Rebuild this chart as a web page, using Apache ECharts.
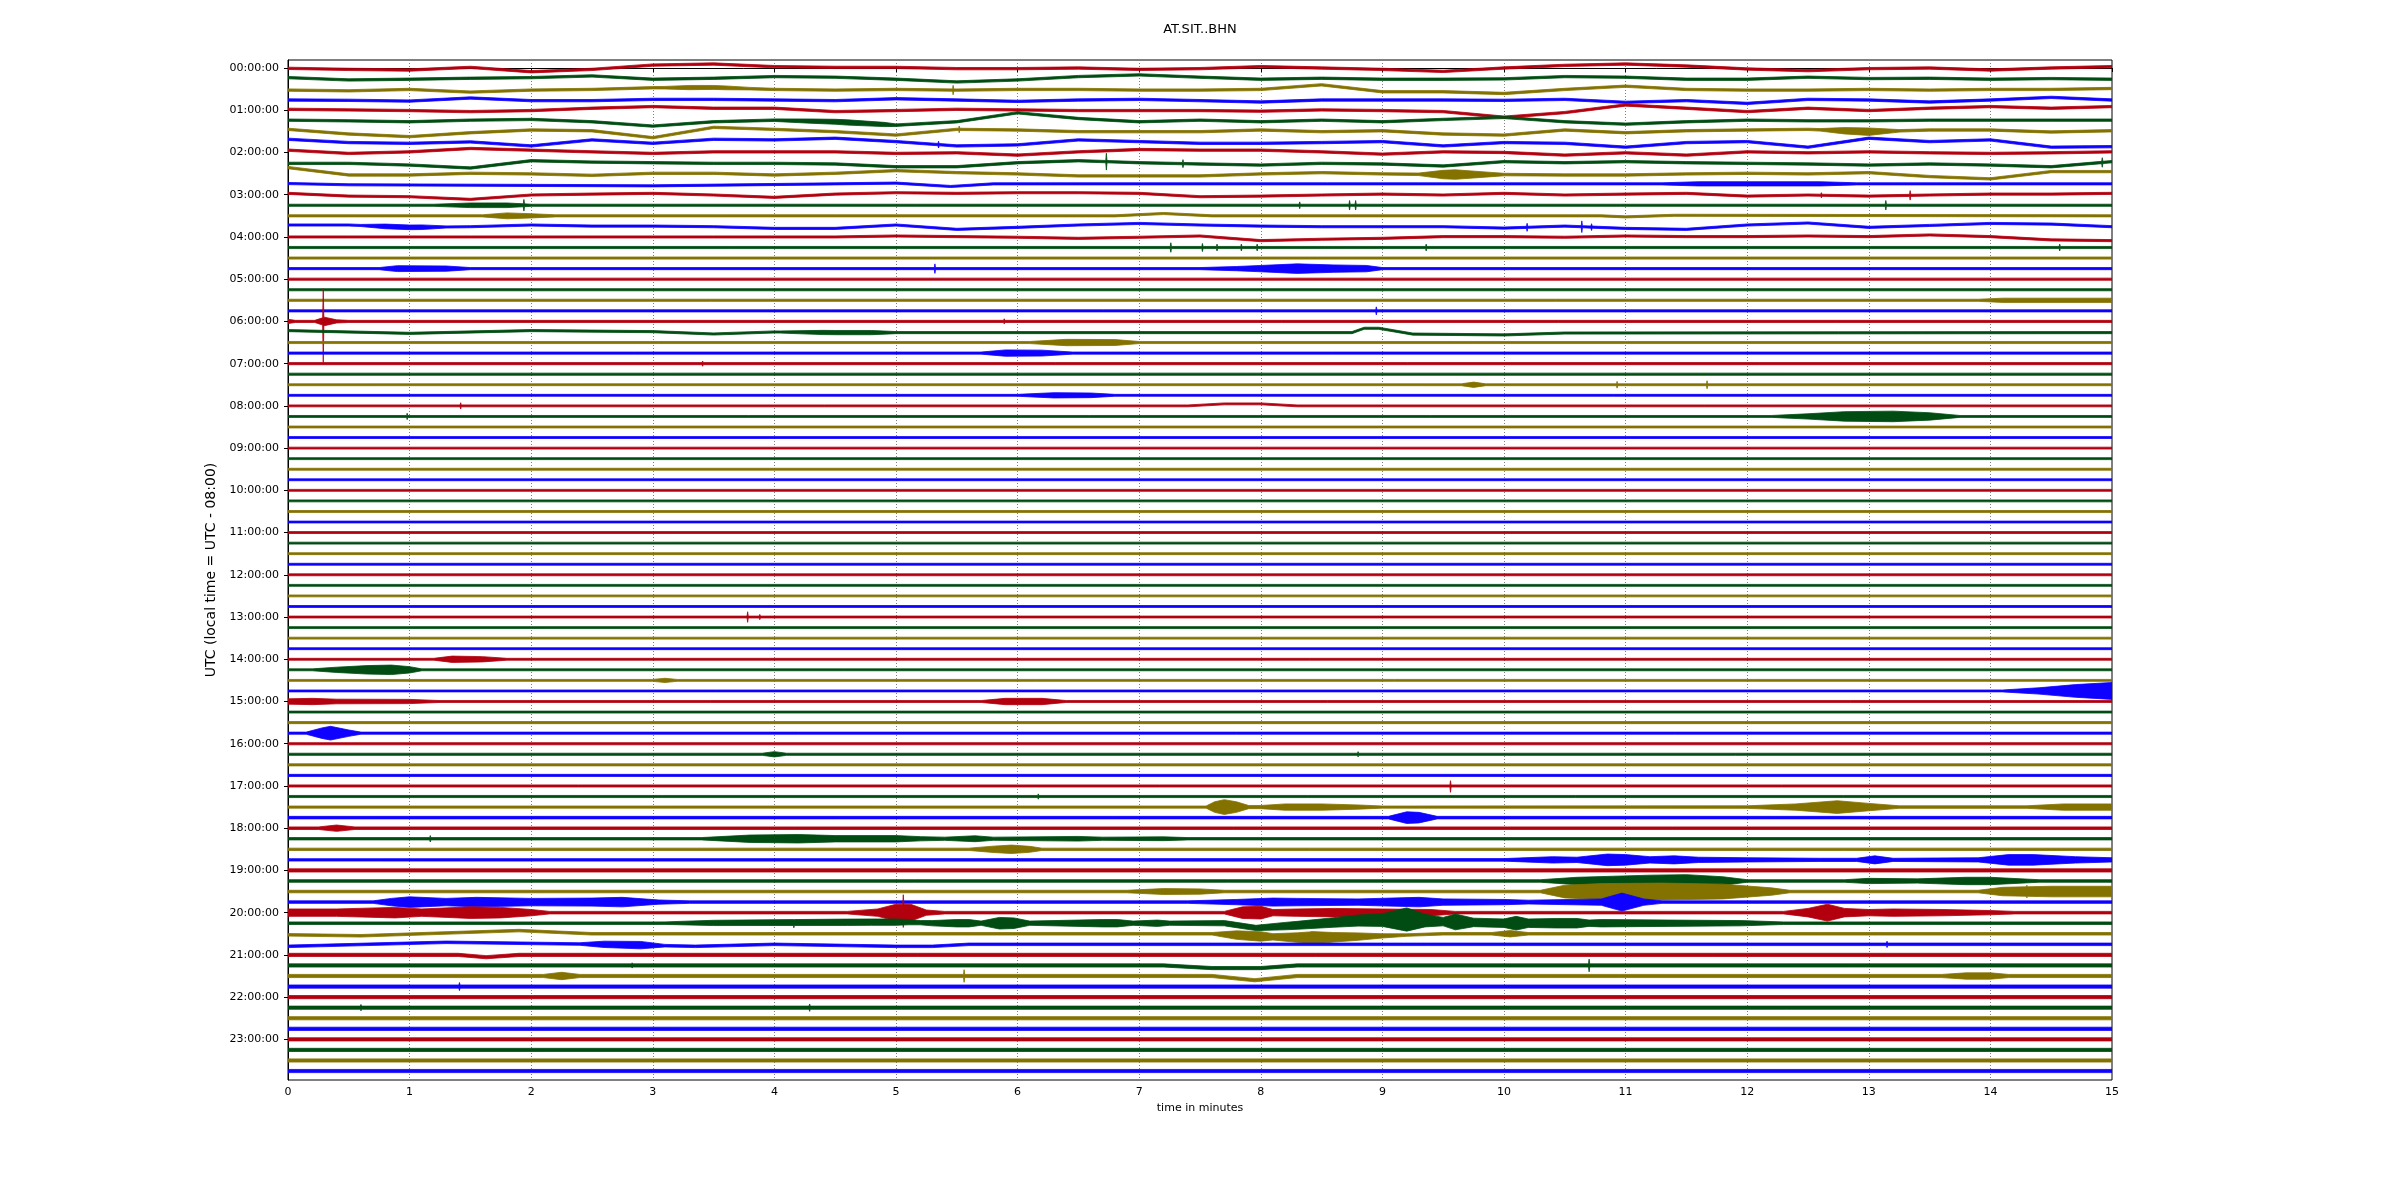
<!DOCTYPE html>
<html>
<head>
<meta charset="utf-8">
<script src="https://cdn.jsdelivr.net/npm/echarts@6/dist/echarts.min.js"></script>
<style>
html,body{margin:0;padding:0;background:#fff;}
#chart{width:2400px;height:1200px;}
</style>
</head>
<body>
<div id="chart"></div>
<script>
// ---------------- data ----------------
const TITLE = 'AT.SIT..BHN';
const X_NAME = 'time in minutes';
const Y_NAME = 'UTC (local time = UTC - 08:00)';
const TRACE_COLORS = ['#B2000F', '#004C12', '#847200', '#0E01FF'];
const HOUR_LABELS = ['00:00:00','01:00:00','02:00:00','03:00:00','04:00:00','05:00:00','06:00:00','07:00:00',
  '08:00:00','09:00:00','10:00:00','11:00:00','12:00:00','13:00:00','14:00:00','15:00:00',
  '16:00:00','17:00:00','18:00:00','19:00:00','20:00:00','21:00:00','22:00:00','23:00:00'];
const HOUR_TRACE_POS = [0,4,8,12,16,20,24,28,32,36,40,44,48,52,56,60,64,68,72,76,80,84,88,92];
const MINUTE_TICKS = [0,1,2,3,4,5,6,7,8,9,10,11,12,13,14,15];

// background noise half-width of each of the 96 quarter-hour traces (trace spacing units)
const NOISE = [
  0.11,0.11,0.11,0.11,0.11,0.11,0.11,0.11,0.11,0.11,0.11,
  0.10,0.10,0.10,0.10,0.10,0.10,0.10,0.10,0.10,0.10,0.10,0.10,0.10,0.10,0.10,0.10,0.10,0.10,0.10,
  0.09,0.09,0.09,0.09,0.09,0.09,0.09,0.09,0.09,0.09,0.09,0.09,0.09,0.09,0.09,0.09,
  0.09,0.09,0.09,0.09,0.09,0.09,0.09,0.09,0.09,0.09,0.09,0.09,0.09,0.09,0.09,0.09,
  0.10,0.10,0.10,0.10,0.10,0.10,0.10,0.10,0.10,
  0.12,0.12,
  0.11,0.11,0.11,
  0.15,
  0.12,0.12,0.12,0.12,0.12,0.12,0.12,
  0.15,0.15,0.15,0.15,0.15,0.15,0.15,0.15,0.15,0.15,0.15,0.15
];

// slow drift of the trace centre, read every half minute (trace units, up positive)
const GRID_T = [0,0.5,1,1.5,2,2.5,3,3.5,4,4.5,5,5.5,6,6.5,7,7.5,8,8.5,9,9.5,10,10.5,11,11.5,12,12.5,13,13.5,14,14.5,15];
const GRID_TRACES = [0,1,2,3,4,5,6,7,8,9,10,12,15,16];
const GRID_OFFSETS = [
  [-0.03,-0.13,-0.19,0.06,-0.35,-0.13,0.28,0.38,0.13,0.06,0.06,-0.06,-0.06,0,-0.13,-0.06,0.13,0,-0.13,-0.32,0,0.25,0.38,0.19,-0.09,-0.25,-0.06,0,-0.19,0,0.13],
  [0.09,-0.13,-0.06,0.03,0.09,0.25,-0.06,0.03,0.19,0.13,-0.06,-0.32,-0.13,0.19,0.35,0.13,-0.06,0.03,-0.06,-0.06,-0.03,0.19,0.13,-0.06,-0.06,0.13,0,0.03,-0.06,0,-0.06],
  [-0.09,-0.16,-0.03,-0.28,-0.09,-0.03,0.13,0.16,-0.03,-0.09,-0.03,-0.09,-0.03,-0.03,-0.09,-0.09,-0.03,0.41,-0.25,-0.25,-0.41,-0.03,0.28,-0.03,-0.09,-0.09,-0.03,-0.09,-0.03,-0.03,0.06],
  [-0.03,-0.06,-0.13,0.16,-0.09,-0.09,0.03,0.03,-0.03,-0.09,0.09,-0.03,-0.16,-0.03,0.03,-0.09,-0.22,-0.03,-0.03,-0.03,-0.06,0.03,-0.25,-0.09,-0.35,0.03,-0.03,-0.22,-0.03,0.22,-0.03],
  [0.09,0.03,-0.03,-0.13,-0.03,0.19,0.35,0.19,0.19,-0.13,-0.03,0.09,0.03,-0.03,-0.03,-0.03,-0.09,0.03,-0.03,-0.13,-0.66,-0.22,0.5,0.19,-0.13,0.19,-0.03,0.19,0.35,0.19,0.35],
  [0.06,0,-0.09,0.06,0.13,-0.09,-0.5,-0.09,0.06,-0.09,-0.41,-0.09,0.76,0.22,-0.09,0.06,-0.09,0.06,-0.09,0.13,0.32,-0.09,-0.32,-0.09,0.06,0,0,0.06,0.06,0.06,0.06],
  [0.19,-0.25,-0.5,-0.13,0.13,0.06,-0.6,0.38,0.19,-0.03,-0.35,0.19,0.13,-0.03,-0.03,-0.03,0.13,-0.03,0.06,-0.25,-0.35,0.13,-0.13,0.06,0.13,0.19,-0.03,0.13,0.13,-0.06,0.06],
  [0.25,-0.06,-0.13,0,-0.38,0.19,-0.13,0.25,0.19,0.35,0.03,-0.38,-0.28,0.19,0.03,-0.13,-0.13,-0.06,0.03,-0.38,-0.06,-0.13,-0.5,-0.06,0.03,-0.5,0.35,0.03,0.19,-0.5,-0.45],
  [0.22,-0.09,0.06,0.38,0.22,0.06,-0.09,0.06,0.06,0.06,-0.09,-0.03,-0.25,0.06,0.28,0.22,0.22,0.06,-0.16,0.06,0,-0.25,-0.03,-0.25,0.06,-0.03,0.06,-0.03,-0.09,-0.03,0.06],
  [-0.03,-0.03,-0.19,-0.47,0.22,0.09,0.03,-0.03,-0.03,-0.09,-0.35,-0.35,0.03,0.22,0.03,-0.09,-0.19,-0.03,-0.09,-0.28,0.13,0.03,0.13,0.03,-0.03,-0.09,-0.19,-0.09,-0.19,-0.35,0.13],
  [0.57,-0.13,-0.13,0.03,-0.03,-0.16,0.03,0.03,-0.13,0.03,0.28,0.09,-0.03,-0.22,-0.22,-0.22,-0.03,0.09,-0.03,-0.09,-0.09,-0.13,-0.13,-0.03,0.03,-0.03,0.09,-0.28,-0.5,0.19,0.19],
  [0.13,-0.13,-0.19,-0.44,-0.03,0.06,0.13,-0.03,-0.25,0.06,0.19,0.13,0.19,0.19,0.13,-0.19,-0.13,-0.03,0.06,-0.03,0.13,-0.03,0.06,0.13,-0.13,-0.03,-0.13,-0.03,0.06,0.06,0.13],
  [0.13,0.13,-0.09,-0.03,0.13,0.03,0.03,-0.03,-0.19,-0.19,0.13,-0.28,-0.09,0.13,0.28,0.13,0.03,-0.03,-0.03,-0.03,-0.16,0.03,-0.19,-0.28,0.13,0.32,-0.09,0.09,0.28,0.22,-0.03],
  [0,0,0,0,0,0,0,0,0,0,0.09,0.03,-0.03,-0.13,-0.03,0.09,-0.35,-0.22,-0.13,0.03,0.03,-0.03,0.09,0.03,0.03,0.09,0.03,0.19,0.03,-0.28,-0.35]
];

// sparse centre shifts of other traces: [minute, offset]
const SHIFT_TRACES = [11,14,25,32,81,82,83,84,85,86];
const SHIFT_POINTS = [
  [[0,0.06],[0.5,-0.06],[3,-0.16],[4.5,0.03],[5,0.1],[5.45,-0.22],[5.8,0.03],[15,0.03]],
  [[0,0],[6.8,0],[7.2,0.22],[7.6,0],[10.8,0],[11,-0.1],[11.4,0.05],[15,0]],
  [[0,0.13],[1,-0.13],[2,0.13],[3,0.03],[3.5,-0.19],[4,0],[4.5,-0.06],[8.75,-0.06],[8.85,0.35],[8.97,0.35],[9.25,-0.2],[10,-0.28],[10.5,-0.1],[15,-0.06]],
  [[0,0],[7.4,0],[7.7,0.19],[8.0,0.19],[8.3,0],[15,0]],
  [[0,0],[3,0],[4.8,0.1],[5.1,0.1],[5.3,0],[7.7,0],[7.96,-0.45],[8.3,-0.2],[8.8,0.25],[9.2,0.35],[9.5,0.15],[10,0],[15,0]],
  [[0,-0.1],[0.6,-0.19],[1.9,0.3],[2.5,0],[7.6,0],[8.0,-0.25],[8.4,-0.4],[9,-0.2],[9.5,0],[15,0]],
  [[0,-0.19],[1.3,0.19],[2.6,0],[3.35,-0.19],[4,0],[5,-0.19],[5.3,-0.19],[5.6,0],[15,0]],
  [[0,0],[1.4,0],[1.63,-0.22],[1.9,0],[15,0]],
  [[0,0],[7.2,0],[7.6,-0.25],[8.0,-0.25],[8.3,0],[15,0]],
  [[0,0],[7.6,0],[7.95,-0.4],[8.3,0],[15,0]]
];

// signal bursts: envelope half-width [minute, half-width]
const EVENT_TRACES = [2,5,6,10,11,13,14,15,19,19,22,24,25,26,27,30,31,33,56,57,58,59,60,60,63,65,70,70,70,71,72,73,74,75,77,77,78,78,78,79,79,80,80,80,80,81,82,82,83,86,86];
const EVENT_ENVELOPES = [
  [[3.1,0.12],[3.3,0.2],[3.6,0.18],[3.8,0.12]],
  [[4.0,0.12],[4.3,0.2],[4.6,0.25],[4.9,0.2],[5.0,0.12]],
  [[12.6,0.12],[12.8,0.3],[13.0,0.35],[13.25,0.12]],
  [[9.3,0.12],[9.5,0.4],[9.6,0.45],[9.9,0.2],[10.0,0.12]],
  [[11.3,0.1],[11.6,0.2],[12.6,0.2],[12.9,0.1]],
  [[1.2,0.1],[1.5,0.22],[1.8,0.22],[2.0,0.1]],
  [[1.6,0.1],[1.8,0.28],[2.0,0.2],[2.2,0.1]],
  [[0.6,0.1],[0.8,0.22],[1.1,0.22],[1.3,0.1]],
  [[0.75,0.1],[0.9,0.28],[1.3,0.25],[1.5,0.1]],
  [[7.5,0.1],[7.8,0.2],[8.0,0.3],[8.3,0.45],[8.6,0.35],[8.87,0.3],[9.0,0.1]],
  [[13.9,0.1],[14.1,0.2],[15,0.2]],
  [[0.0,0.2],[0.06,0.1],[0.22,0.1],[0.3,0.4],[0.4,0.15],[0.5,0.1]],
  [[4.05,0.1],[4.4,0.2],[4.8,0.2],[5.0,0.1]],
  [[6.1,0.1],[6.4,0.3],[6.8,0.28],[7.0,0.1]],
  [[5.7,0.1],[5.9,0.3],[6.2,0.28],[6.45,0.1]],
  [[9.65,0.09],[9.75,0.25],[9.85,0.09]],
  [[6.0,0.09],[6.3,0.25],[6.6,0.22],[6.8,0.09]],
  [[12.2,0.09],[12.5,0.25],[12.8,0.45],[13.2,0.5],[13.5,0.35],[13.75,0.09]],
  [[1.2,0.09],[1.35,0.3],[1.6,0.25],[1.8,0.09]],
  [[0.2,0.09],[0.4,0.25],[0.65,0.4],[0.85,0.45],[1.0,0.3],[1.1,0.09]],
  [[3.0,0.09],[3.1,0.2],[3.2,0.09]],
  [[14.1,0.09],[14.4,0.3],[14.7,0.6],[15,0.8]],
  [[0,0.25],[0.2,0.3],[0.4,0.22],[1.0,0.2],[1.25,0.09]],
  [[5.7,0.09],[5.9,0.3],[6.2,0.3],[6.4,0.09]],
  [[0.15,0.1],[0.28,0.5],[0.35,0.65],[0.5,0.3],[0.6,0.1]],
  [[3.9,0.1],[4.0,0.25],[4.1,0.1]],
  [[7.55,0.1],[7.62,0.5],[7.7,0.7],[7.8,0.5],[7.9,0.15],[8.0,0.15],[8.2,0.3],[8.5,0.3],[8.8,0.2],[9.0,0.1]],
  [[12.0,0.12],[12.4,0.3],[12.74,0.6],[13.0,0.35],[13.25,0.12]],
  [[14.3,0.12],[14.6,0.3],[15,0.3]],
  [[9.05,0.12],[9.2,0.55],[9.3,0.5],[9.45,0.12]],
  [[0.25,0.12],[0.4,0.3],[0.55,0.12]],
  [[3.4,0.11],[3.8,0.35],[4.2,0.4],[4.5,0.3],[5.0,0.3],[5.2,0.2],[5.4,0.15],[5.65,0.28],[5.8,0.15],[6.5,0.22],[6.7,0.15],[7.2,0.18],[7.4,0.11]],
  [[5.6,0.11],[5.8,0.3],[5.95,0.4],[6.1,0.28],[6.2,0.11]],
  [[10.0,0.12],[10.4,0.3],[10.6,0.25],[10.85,0.55],[11.0,0.5],[11.2,0.3],[11.4,0.38],[11.6,0.25],[12.0,0.2],[12.6,0.15],[12.9,0.15],[13.05,0.38],[13.2,0.15],[13.9,0.2],[14.15,0.5],[14.35,0.5],[14.7,0.3],[15,0.2]],
  [[10.3,0.12],[10.6,0.35],[10.9,0.45],[11.2,0.55],[11.5,0.6],[11.8,0.4],[12.0,0.12]],
  [[12.8,0.12],[13.0,0.25],[13.4,0.2],[13.8,0.35],[14.0,0.35],[14.4,0.12]],
  [[6.9,0.12],[7.2,0.28],[7.5,0.25],[7.7,0.12]],
  [[10.3,0.12],[10.5,0.6],[10.8,0.75],[11.3,0.8],[11.8,0.7],[12.2,0.35],[12.35,0.12]],
  [[13.9,0.12],[14.1,0.4],[14.5,0.5],[15,0.5]],
  [[0.7,0.12],[0.85,0.35],[1.0,0.5],[1.3,0.35],[1.55,0.45],[2.0,0.35],[2.5,0.38],[2.75,0.45],[3.05,0.2],[3.3,0.12]],
  [[7.4,0.12],[7.8,0.25],[8.1,0.38],[8.3,0.35],[8.8,0.3],[9.3,0.45],[9.5,0.3],[10.0,0.25],[10.2,0.18],[10.8,0.3],[10.97,0.85],[11.15,0.3],[11.3,0.12]],
  [[0,0.35],[0.4,0.35],[0.88,0.5],[1.1,0.35],[1.5,0.55],[1.75,0.5],[2.0,0.3],[2.15,0.12]],
  [[4.6,0.12],[4.85,0.35],[5.0,0.8],[5.12,0.8],[5.25,0.25],[5.4,0.12]],
  [[7.7,0.12],[7.85,0.55],[8.0,0.6],[8.1,0.3],[8.3,0.35],[8.6,0.4],[9.0,0.35],[9.4,0.3],[9.6,0.12]],
  [[12.3,0.12],[12.5,0.4],[12.66,0.8],[12.8,0.4],[13.0,0.3],[13.2,0.35],[13.6,0.3],[14.0,0.2],[14.2,0.12]],
  [[3.1,0.12],[3.5,0.25],[4.6,0.3],[5.0,0.3],[5.2,0.2],[5.5,0.35],[5.6,0.35],[5.7,0.2],[5.85,0.55],[5.97,0.5],[6.1,0.2],[6.7,0.35],[6.82,0.35],[6.95,0.2],[7.15,0.3],[7.25,0.2],[7.73,0.25],[7.96,0.25],[8.2,0.35],[8.6,0.45],[9.0,0.6],[9.2,1.1],[9.35,0.6],[9.5,0.4],[9.6,0.75],[9.75,0.4],[10.0,0.4],[10.1,0.65],[10.2,0.4],[10.43,0.45],[10.6,0.45],[10.7,0.3],[10.8,0.35],[11.35,0.3],[11.95,0.25],[12.3,0.12]],
  [[7.6,0.12],[7.8,0.4],[8.0,0.45],[8.1,0.3],[8.3,0.45],[8.42,0.6],[8.6,0.45],[8.8,0.35],[9.0,0.2],[9.2,0.12]],
  [[9.9,0.12],[10.05,0.3],[10.2,0.12]],
  [[2.4,0.12],[2.6,0.3],[2.9,0.35],[3.1,0.12]],
  [[2.1,0.15],[2.25,0.35],[2.4,0.15]],
  [[13.6,0.15],[13.8,0.3],[14.0,0.3],[14.15,0.15]]
];

// single spikes: trace, minute, upward and downward reach (trace units)
const SPIKE_TRACES = [2,6,7,9,9,9,12,12,13,13,13,13,13,15,15,15,17,17,17,17,17,17,17,19,23,24,24,28,30,30,32,33,52,52,65,68,69,73,78,80,81,83,85,85,86,87,89,89];
const SPIKE_TIMES  = [5.47,5.52,5.35,6.73,7.36,14.92,12.61,13.34,1.94,8.32,8.73,8.78,13.14,10.19,10.64,10.72,7.26,7.52,7.64,7.84,7.97,9.36,14.57,5.32,8.95,0.29,5.89,3.41,10.93,11.67,1.42,0.98,3.78,3.88,8.8,9.56,6.17,1.17,14.3,5.06,4.16,13.15,10.7,2.83,5.56,1.41,0.6,4.29];
const SPIKE_UP     = [0.45,0.32,0.32,0.8,0.38,0.45,0.25,0.45,0.55,0.32,0.45,0.45,0.45,0.38,0.55,0.32,0.45,0.38,0.32,0.32,0.32,0.32,0.32,0.45,0.38,3.1,0.25,0.25,0.32,0.38,0.3,0.3,0.5,0.25,0.25,0.5,0.25,0.3,0.6,1.7,0.2,0.3,0.6,0.25,0.6,0.38,0.3,0.35];
const SPIKE_DOWN   = [0.45,0.32,0.32,0.8,0.38,0.45,0.25,0.45,0.55,0.32,0.45,0.45,0.45,0.38,0.55,0.32,0.45,0.38,0.32,0.32,0.32,0.32,0.32,0.45,0.38,3.9,0.25,0.25,0.32,0.38,0.3,0.3,0.5,0.25,0.25,0.6,0.25,0.3,0.6,1.4,0.5,0.3,0.6,0.25,0.6,0.38,0.3,0.35];

// ---------------- build outlines (data space) ----------------
const N_TRACES = NOISE.length;
function lerp(pts, t) {
  if (t <= pts[0][0]) return pts[0][1];
  for (let i = 1; i < pts.length; i++) {
    if (t <= pts[i][0]) {
      const a = pts[i - 1], b = pts[i];
      const f = (t - a[0]) / (b[0] - a[0] || 1);
      return a[1] + f * (b[1] - a[1]);
    }
  }
  return pts[pts.length - 1][1];
}
function traceOutline(k) {
  let centre = [[0, 0], [15, 0]];
  const gi = GRID_TRACES.indexOf(k);
  if (gi >= 0) centre = GRID_T.map((t, i) => [t, GRID_OFFSETS[gi][i]]);
  const si = SHIFT_TRACES.indexOf(k);
  if (si >= 0) centre = SHIFT_POINTS[si];
  const envs = [];
  EVENT_TRACES.forEach((tr, i) => { if (tr === k) envs.push(EVENT_ENVELOPES[i]); });
  const spikes = [];
  SPIKE_TRACES.forEach((tr, i) => { if (tr === k) spikes.push([SPIKE_TIMES[i], SPIKE_UP[i], SPIKE_DOWN[i]]); });
  const times = new Set([0, 15]);
  centre.forEach(p => times.add(p[0]));
  envs.forEach(e => e.forEach(p => times.add(p[0])));
  spikes.forEach(s => { times.add(s[0] - 0.005); times.add(s[0]); times.add(s[0] + 0.005); });
  const ts = Array.from(times).filter(t => t >= 0 && t <= 15).sort((a, b) => a - b);
  const upper = [], lower = [];
  ts.forEach(t => {
    const c = lerp(centre, t);
    let h = NOISE[k];
    envs.forEach(e => {
      if (t >= e[0][0] && t <= e[e.length - 1][0]) h = Math.max(h, lerp(e, t));
    });
    let up = h, dn = h;
    spikes.forEach(s => {
      if (Math.abs(t - s[0]) < 1e-9) { up = Math.max(up, s[1]); dn = Math.max(dn, s[2]); }
    });
    upper.push([t, k - c - up]);
    lower.push([t, k - c + dn]);
  });
  return upper.concat(lower.reverse());
}
const OUTLINES = [];
for (let k = 0; k < N_TRACES; k++) OUTLINES.push(traceOutline(k));
const TRACE_ROWS = OUTLINES.map((o, k) => [7.5, k]);

// ---------------- chart ----------------
const FONT = 'DejaVu Sans';
const chart = echarts.init(document.getElementById('chart'), null, { renderer: 'canvas' });
chart.setOption({
  animation: false,
  backgroundColor: '#ffffff',
  title: {
    text: TITLE, left: 'center', top: 23, padding: 0,
    textStyle: { fontFamily: FONT, fontSize: 13, fontWeight: 'normal', color: '#000' }
  },
  grid: {
    left: 288, right: 288, top: 60, bottom: 120,
    show: true, borderColor: '#000', borderWidth: 1, backgroundColor: 'transparent'
  },
  xAxis: {
    type: 'value', min: 0, max: 15, interval: 1,
    name: X_NAME, nameLocation: 'middle', nameGap: 22,
    nameTextStyle: { fontFamily: FONT, fontSize: 11, color: '#000' },
    axisLine: { show: true, lineStyle: { color: '#000', width: 1 } },
    axisTick: { show: true, inside: false, length: 4, lineStyle: { color: '#000' } },
    axisLabel: { fontFamily: FONT, fontSize: 11, color: '#000', margin: 7,
      formatter: v => (MINUTE_TICKS.indexOf(v) >= 0 ? String(v) : '') },
    splitLine: { show: true, lineStyle: { color: '#808080', type: [1, 2], width: 1 } }
  },
  yAxis: {
    type: 'value', inverse: true, min: -0.76, max: 95.85,
    name: Y_NAME, nameLocation: 'middle', nameGap: 57, nameRotate: 90,
    nameTextStyle: { fontFamily: FONT, fontSize: 14, color: '#000' },
    axisLine: { show: true, lineStyle: { color: '#000', width: 1 } },
    axisTick: { show: true, inside: false, length: 4, customValues: HOUR_TRACE_POS, lineStyle: { color: '#000' } },
    axisLabel: { fontFamily: FONT, fontSize: 11, color: '#000', margin: 9, customValues: HOUR_TRACE_POS,
      formatter: v => HOUR_LABELS[Math.round(v / 4)] || '' },
    splitLine: { show: false }
  },
  series: [{
    type: 'custom',
    coordinateSystem: 'cartesian2d',
    data: TRACE_ROWS,
    encode: { x: 0, y: 1 },
    clip: true,
    silent: true,
    renderItem: function (params, api) {
      const k = params.dataIndex;
      const color = TRACE_COLORS[k % 4];
      const pts = OUTLINES[k].map(p => api.coord(p));
      return {
        type: 'polygon',
        shape: { points: pts },
        style: { fill: color, stroke: color, lineWidth: 0.8 }
      };
    }
  }]
});
</script>
</body>
</html>
